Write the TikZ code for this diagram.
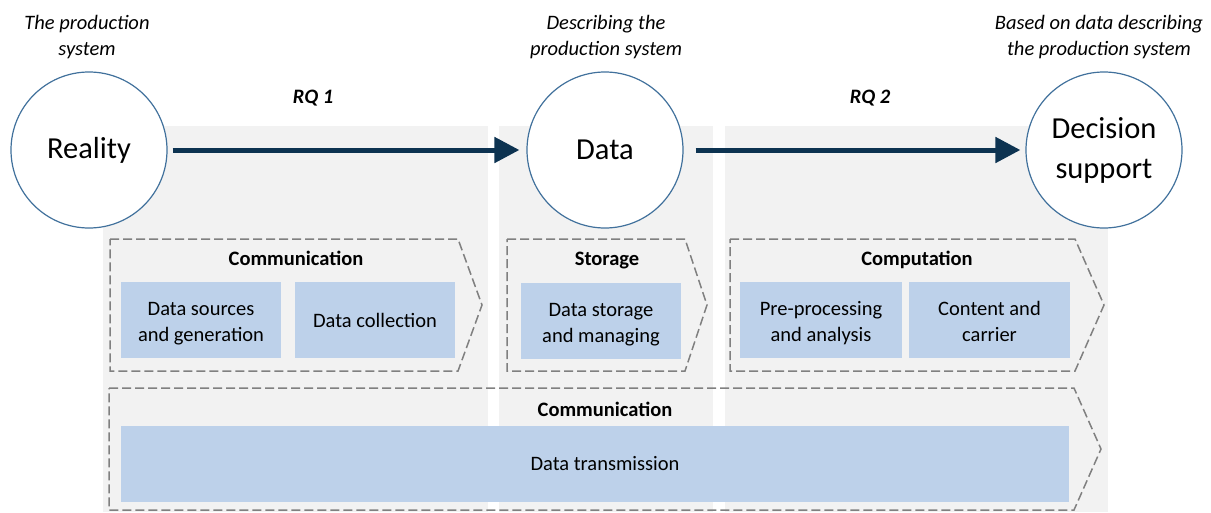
\documentclass[tikz,border=0pt]{standalone}
\usepackage{fontspec}
\setmainfont{Carlito}
\usepackage{tikz}
\usetikzlibrary{arrows.meta}

\definecolor{panelgray}{HTML}{F2F2F2}
\definecolor{boxblue}{HTML}{BDD1EA}
\definecolor{ringblue}{HTML}{41719C}
\definecolor{flownavy}{HTML}{0D3351}
\definecolor{dashgray}{HTML}{808080}

\newcommand{\smallfont}{\fontsize{20.5}{26}\selectfont}
\newcommand{\bigfont}{\fontsize{30.5}{40}\selectfont}

\tikzset{
  stage/.style={circle, draw=ringblue, line width=1.2pt, fill=white, minimum size=156pt, inner sep=0pt, align=center, font=\bigfont},
  flow/.style={flownavy, line width=5pt, -{Triangle[length=25pt, width=25pt]}},
  chev/.style={dashgray, line width=1.5pt, dash pattern=on 9pt off 4pt},
  task/.style={fill=boxblue, minimum width=160pt, minimum height=76pt, inner sep=0pt},
  tasktext/.style={label={[align=center, font=\smallfont, yshift=-3.5pt]center:#1}},
  caption/.style={align=center, font=\smallfont\itshape},
  phase/.style={font=\smallfont\bfseries, text height=1.5ex, text depth=.4ex},
}

\begin{document}
\begin{tikzpicture}[x=1pt, y=-1pt]
	\useasboundingbox (0,0) rectangle (1211,512);

	% background panels
	\fill[panelgray] (103,126) rectangle (488,512);
	\fill[panelgray] (499,126) rectangle (713,512);
	\fill[panelgray] (725,126) rectangle (1108,512);

	% captions
	\node[caption] (capreal) at (87,37) {The production\\system};
	\node[caption] (capdata) at (606,37) {Describing the\\production system};
	\node[caption] (capdec) at (1099,37) {Based on data describing\\the production system};
	\node[phase, font=\smallfont\bfseries\itshape] (rq1) at (313,101) {RQ 1};
	\node[phase, font=\smallfont\bfseries\itshape] (rq2) at (870,101) {RQ 2};

	% stages
	\node[stage] (real) at (89,150) {Reality};
	\node[stage] (data) at (605,150) {Data};
	\node[stage] (dec) at (1104,150) {Decision\\support};

	\draw[flow, shorten <=5pt, shorten >=7pt] (real) -- (data);
	\draw[flow, shorten <=12pt, shorten >=5pt] (data) -- (dec);

	% dashed chevrons
	\draw[chev] (110,239) -- (458,239) -- (482,305) -- (458,371) -- (110,371) -- cycle;
	\draw[chev] (507,239) -- (685,239) -- (707,305) -- (685,371) -- (507,371) -- cycle;
	\draw[chev] (730,239) -- (1075,239) -- (1104,305) -- (1075,371) -- (730,371) -- cycle;
	\draw[chev] (109,388) -- (1074,388) -- (1101,449) -- (1074,510) -- (109,510) -- cycle;

	\node[phase] (comm) at (296,263) {Communication};
	\node[phase] (stor) at (607,263) {Storage};
	\node[phase] (comp) at (917,263) {Computation};
	\node[phase] (commall) at (605,414) {Communication};

	% tasks
	\node[task, tasktext={Data sources\\and generation}] (src) at (201,320) {};
	\node[task, label={[font=\smallfont]center:Data collection}] (coll) at (375,320) {};
	\node[task, tasktext={Data storage\\and managing}] (keep) at (601,321) {};
	\node[task, minimum width=162pt, tasktext={Pre-processing\\and analysis}] (prep) at (821,320) {};
	\node[task, minimum width=161pt, tasktext={Content and\\carrier\vphantom{g}}] (cont) at (989.5,320) {};
	\node[task, minimum width=948pt, label={[font=\smallfont, xshift=10pt]center:Data transmission}] (trans) at (595,464) {};
\end{tikzpicture}
\end{document}
